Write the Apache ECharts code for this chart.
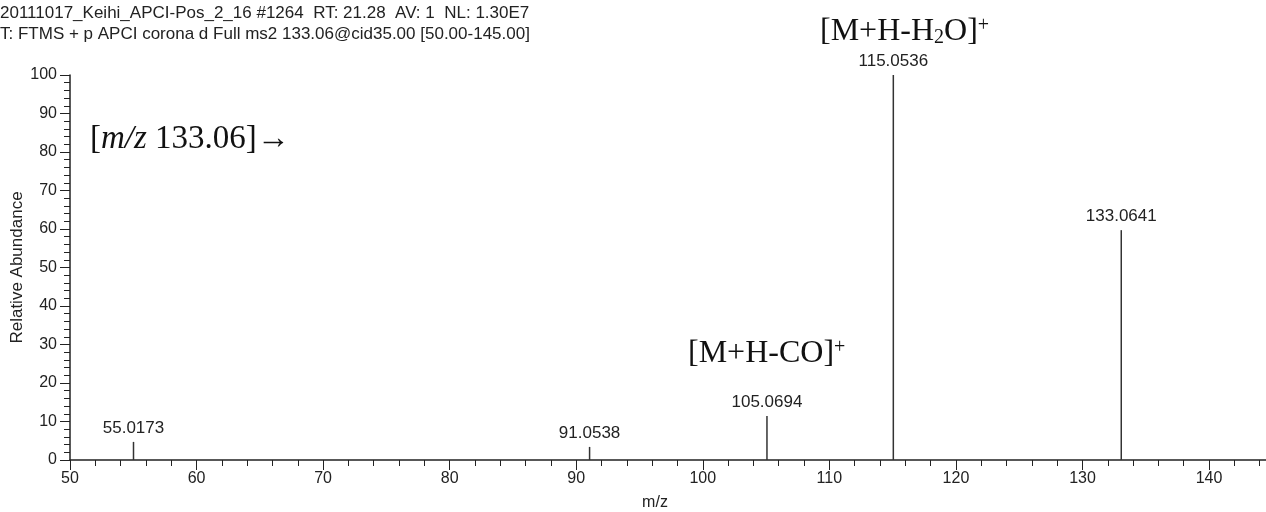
<!DOCTYPE html>
<html>
<head>
<meta charset="utf-8">
<script src="https://cdn.jsdelivr.net/npm/echarts@6/dist/echarts.min.js"></script>
<style>
  html, body { margin: 0; background: #fff; }
  #chart { width: 1266px; height: 512px; }
</style>
</head>
<body>
<div id="chart"></div>
<script>
// peaks
const peakMz = [55.0173, 91.0538, 105.0694, 115.0536, 133.0641]
const peakAbundance = [4.7, 3.4, 11.4, 100, 59.7]
const peakLabels = ['55.0173', '91.0538', '105.0694', '115.0536', '133.0641']

const headerLines = [
  '20111017_Keihi_APCI-Pos_2_16 #1264  RT: 21.28  AV: 1  NL: 1.30E7',
  'T: FTMS + p APCI corona d Full ms2 133.06@cid35.00 [50.00-145.00]'
]

const ink = '#222'
const sans = '"Liberation Sans", Arial, sans-serif'
const serif = '"Liberation Serif", "Times New Roman", serif'

const chart = echarts.init(document.getElementById('chart'))

const option = {
  animation: false,
  grid: { left: 70, right: 0, top: 75, bottom: 52, outerBoundsMode: 'none' },
  xAxis: {
    type: 'value',
    min: 50,
    max: 144.5,
    interval: 10,
    name: 'm/z',
    nameLocation: 'middle',
    nameGap: 35,
    nameTextStyle: { color: ink, fontFamily: sans, fontSize: 16, padding: [0, 26, 0, 0] },
    axisLine: { lineStyle: { color: ink, width: 1.5 } },
    axisTick: { length: 10, lineStyle: { color: ink } },
    minorTick: { show: true, splitNumber: 5, length: 6, lineStyle: { color: ink } },
    splitLine: { show: false },
    axisLabel: { color: ink, fontFamily: sans, fontSize: 16, margin: 11, showMaxLabel: false }
  },
  yAxis: {
    type: 'value',
    min: 0,
    max: 100,
    interval: 10,
    name: 'Relative Abundance',
    nameLocation: 'middle',
    nameGap: 44,
    nameMoveOverlap: false,
    nameTextStyle: { color: ink, fontFamily: sans, fontSize: 17 },
    axisLine: { show: true, lineStyle: { color: ink, width: 1.5 } },
    axisTick: { show: true, length: 10, lineStyle: { color: ink } },
    minorTick: { show: true, splitNumber: 5, length: 6, lineStyle: { color: ink } },
    splitLine: { show: false },
    axisLabel: { color: ink, fontFamily: sans, fontSize: 16, margin: 13 }
  },
  series: [{
    type: 'bar',
    barWidth: 1.5,
    itemStyle: { color: '#333' },
    label: {
      show: true,
      position: 'top',
      distance: 5,
      color: ink,
      fontFamily: sans,
      fontSize: 17,
      formatter: p => peakLabels[p.dataIndex]
    },
    data: peakMz.map((mz, i) => [mz, peakAbundance[i]])
  }],
  graphic: [
    {
      type: 'text', left: 0, top: 5,
      style: { text: headerLines[0], font: '17px ' + sans, fill: ink }
    },
    {
      type: 'text', left: 0, top: 26,
      style: { text: headerLines[1], font: '17px ' + sans, fill: ink }
    },
    {
      type: 'text', left: 820, top: 16,
      style: {
        text: '[M+H-H{sub|2}O]{sup|+}',
        font: '32px ' + serif, fill: '#111',
        rich: {
          sub: { fontSize: 20, fontFamily: serif, verticalAlign: 'bottom' },
          sup: { fontSize: 20, fontFamily: serif, verticalAlign: 'top' }
        }
      }
    },
    {
      type: 'text', left: 688, top: 338,
      style: {
        text: '[M+H-CO]{sup|+}',
        font: '32px ' + serif, fill: '#111',
        rich: {
          sup: { fontSize: 20, fontFamily: serif, verticalAlign: 'top' }
        }
      }
    },
    {
      type: 'text', left: 90, top: 123,
      style: {
        text: '[{i|m/z} 133.06]→',
        font: '33px ' + serif, fill: '#111',
        rich: {
          i: { fontSize: 33, fontFamily: serif, fontStyle: 'italic' }
        }
      }
    }
  ]
}

chart.setOption(option)
</script>
</body>
</html>
